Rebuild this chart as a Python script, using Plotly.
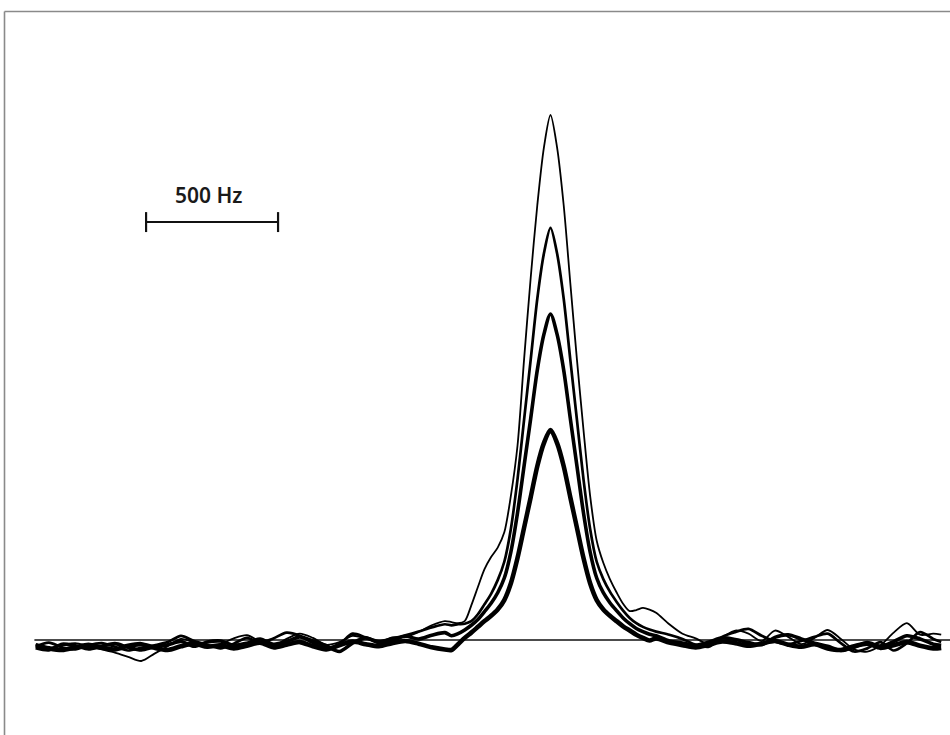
import plotly.graph_objects as go

# Frequency axis (Hz, relative to the peak centre)
x_left = [-1950, -1900, -1850, -1800, -1750, -1700, -1650, -1600, -1550, -1500,
          -1450, -1400, -1350, -1300, -1250, -1200, -1150, -1100, -1050, -1000,
          -950, -900, -850, -800, -750, -700, -650, -600, -550, -500, -450, -400]
x_peak = [-375, -350, -325, -300, -275, -250, -225, -200, -175, -150, -125, -100,
          -75, -50, -25, 0, 25, 50, 75, 100, 125, 150, 175, 200, 225, 250, 275,
          300, 325, 350, 375]
x_right = [400, 450, 500, 550, 600, 650, 700, 750, 800, 850, 900, 950, 1000,
           1050, 1100, 1150, 1200, 1250, 1300, 1350, 1400, 1450, 1480]
x_hz = x_left + x_peak + x_right

# Intensities (arbitrary units, baseline = 0)
s1 = ([-0.8, -1.5, -1.0, -0.6, -1.2, -1.8, -2.4, -3.2, -4.0, -2.6, -1.2, 0.2, -0.5, -1.4,
       -0.8, 0.3, 0.9, -0.3, -1.1, 0.2, 1.2, 0.4, -0.9, -0.4, 0.8, 0.3, -0.4, 0.5, 0.6,
       1.5, 2.8, 3.6]
      + [3.4, 3.2, 3.6, 6.6, 10.1, 13.5, 15.8, 17.6, 20.5, 27.5, 37.0, 53.5, 69.0, 82.8,
         93.8, 100.0, 93.8, 82.8, 68.0, 53.5, 40.0, 27.5, 18.9, 14.7, 11.6, 9.1, 6.9,
         5.5, 5.7, 6.1, 5.8]
      + [5.2, 3.0, 1.2, 0.3, -0.8, 0.5, 1.8, 1.2, -0.2, 1.8, 0.6, -0.8, 0.4, 1.9, 0.2,
         -1.8, -2.2, -1.0, 1.4, 3.2, 1.0, 1.2, 1.0])
s2 = ([-1.2, -0.5, -1.4, -1.8, -1.0, -0.6, -1.3, -2.0, -1.5, -1.0, -0.4, 0.8, -0.2, -0.9,
       -1.6, -0.7, 0.4, -0.5, 0.3, 1.4, 0.8, -0.6, -1.5, -0.8, 1.2, 0.5, -0.2, 0.3, 0.9,
       1.6, 2.4, 3.0]
      + [2.8, 3.0, 3.1, 3.6, 4.9, 6.8, 8.8, 11.4, 14.9, 21.2, 30.6, 42.0, 53.4, 65.0,
         73.6, 78.5, 73.6, 65.0, 53.4, 42.0, 30.6, 21.2, 14.9, 11.6, 9.2, 7.3, 5.6, 4.2,
         3.2, 2.5, 2.0]
      + [1.6, 1.0, 0.2, -0.9, -1.3, 0.6, 1.5, 2.1, 0.8, -0.3, -0.8, -0.2, 0.6, 1.2, -0.6,
         -2.2, -1.6, -0.4, -2.0, -0.6, 1.5, 0.2, -0.4])
s3 = ([-1.5, -1.9, -0.8, -1.1, -1.7, -1.2, -0.7, -1.4, -1.9, -1.3, -0.9, -0.3, -1.2, -0.4,
       -0.2, -1.0, -0.6, 0.2, -0.8, -0.3, 0.6, -0.2, -1.1, -2.2, -0.6, 0.4, -0.5, -0.1,
       0.7, 0.2, 0.9, 1.4]
      + [0.8, 1.2, 1.9, 2.8, 3.9, 5.4, 7.0, 9.0, 11.8, 16.8, 24.2, 33.2, 42.2, 51.4, 58.2,
         62.1, 58.2, 51.4, 42.2, 33.2, 24.2, 16.8, 11.8, 9.0, 7.1, 5.6, 4.2, 3.1, 2.2,
         1.6, 1.1]
      + [0.8, -0.2, -0.6, -1.0, -0.4, 0.4, 0.1, -0.5, -0.9, 0.5, 1.0, 0.2, -0.6, -1.2, -2.0,
         -1.4, -0.5, -1.2, -0.3, 0.8, 0.2, -0.8, -1.0])
s4 = ([-1.0, -1.6, -1.9, -1.4, -0.9, -1.5, -1.8, -1.1, -0.8, -1.5, -1.9, -1.2, -0.7, -1.3,
       -1.0, -1.6, -1.1, -0.5, -1.4, -0.9, -0.4, -1.2, -1.8, -1.0, -0.3, -0.8, -1.2, -0.6,
       -0.2, -0.7, -1.4, -1.8]
      + [-1.9, -0.8, 0.4, 1.4, 2.5, 3.6, 4.6, 5.8, 7.6, 10.8, 15.6, 21.4, 27.2, 33.1, 37.5,
         40.0, 37.5, 33.1, 27.2, 21.4, 15.6, 10.8, 7.6, 5.8, 4.6, 3.6, 2.6, 1.8, 1.0, 0.4,
         -0.1]
      + [0.3, -0.5, -1.0, -1.4, -0.9, -0.3, -0.6, -1.1, -0.7, -0.2, -0.9, -1.3, -0.8, -1.6,
         -1.9, -1.2, -0.7, -1.5, -1.0, -0.4, -1.1, -1.6, -1.5])
series = [s1, s2, s3, s4]
widths = [1.8, 2.7, 3.6, 4.6]

baseline_x = [-1955, 1515]
baseline_y = [0, 0]

scale_start, scale_end = -1532, -1032   # 500 Hz
scale_label = "500 Hz"

fig = go.Figure()
fig.add_trace(go.Scatter(x=baseline_x, y=baseline_y, mode="lines",
                         line=dict(color="#111", width=1.4), hoverinfo="skip"))
for s, w in zip(series, widths):
    fig.add_trace(go.Scatter(x=x_hz, y=s, mode="lines",
                             line=dict(color="black", width=w, shape="spline", smoothing=0.8)))

bar_y = 79.6
tick_h = 1.9
fig.add_shape(type="line", x0=scale_start, x1=scale_end, y0=bar_y, y1=bar_y,
              xref="x", yref="y", line=dict(color="#111", width=2))
for xv in (scale_start, scale_end):
    fig.add_shape(type="line", x0=xv, x1=xv, y0=bar_y - tick_h, y1=bar_y + tick_h,
                  xref="x", yref="y", line=dict(color="#111", width=2.2))
fig.add_annotation(x=(scale_start + scale_end) / 2 - 12, y=84.8, text=scale_label,
                   showarrow=False, xref="x", yref="y",
                   font=dict(family="Noto Sans", size=21, color="#1a1a1a", weight=600))

# frame (top and left edges)
fig.add_shape(type="line", xref="paper", yref="paper", x0=4.5 / 950, x1=1.0,
              y0=1 - 11.5 / 735, y1=1 - 11.5 / 735, line=dict(color="#8a8a8a", width=1.6))
fig.add_shape(type="line", xref="paper", yref="paper", x0=4.5 / 950, x1=4.5 / 950,
              y0=0, y1=1 - 11.5 / 735, line=dict(color="#8a8a8a", width=1.6))

fig.update_layout(
    width=950, height=735, margin=dict(l=0, r=0, t=0, b=0),
    paper_bgcolor="white", plot_bgcolor="white", showlegend=False,
    xaxis=dict(range=[-2085.3, 1513.3], visible=False, fixedrange=True),
    yaxis=dict(range=[-18.1, 121.9], visible=False, fixedrange=True),
)
fig.write_html("out.html", config={"displayModeBar": False},
               post_script="document.body.style.margin='0px';")
